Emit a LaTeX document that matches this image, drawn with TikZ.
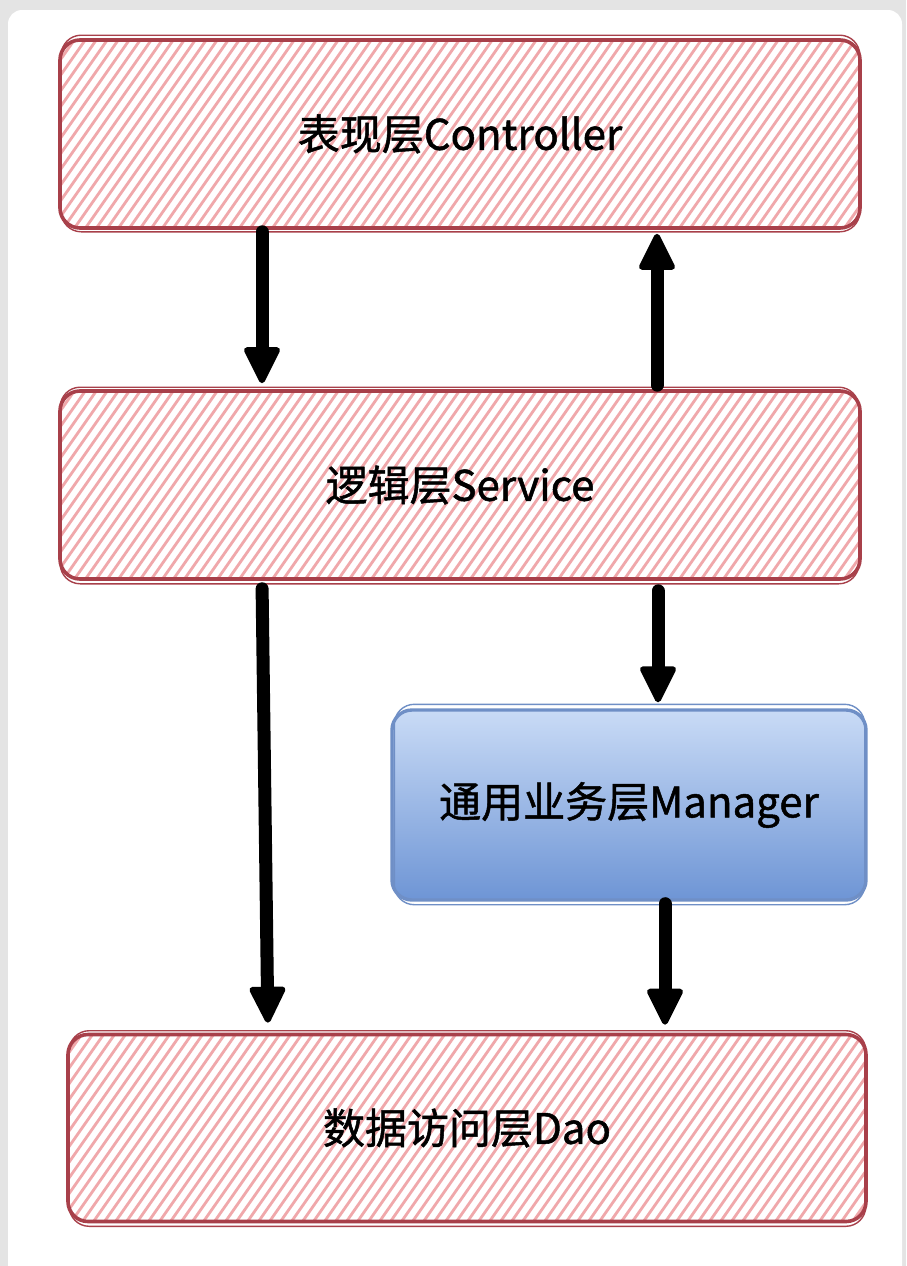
\documentclass[tikz,border=0pt]{standalone}
\usepackage{fontspec}
\setmainfont{Noto Sans CJK SC}[FakeBold=1.2]
\usetikzlibrary{arrows.meta,calc}
\definecolor{bgc}{HTML}{E4E4E4}
\definecolor{redb}{HTML}{A8404A}
\definecolor{hatchc}{HTML}{F0A8AB}
\definecolor{bluetop}{HTML}{C9DBF6}
\definecolor{bluebot}{HTML}{6E95D5}
\definecolor{blueb}{HTML}{6F8FC6}
\tikzset{
  layer/.style={draw=redb, line width=3.6pt, rounded corners=20pt,
    minimum width=800pt, minimum height=188pt, inner sep=0pt,
    font=\fontsize{42}{50}\selectfont,
    path picture={
      \foreach \i in {-16,...,76} {
        \draw[hatchc, line width=2.8pt]
          ($(path picture bounding box.south west)+(\i*11pt,-5pt)$) -- ++(150pt,214pt);
      }
    }},
  mgr/.style={draw=blueb, line width=3.4pt, rounded corners=20pt,
    minimum width=474pt, minimum height=190pt, inner sep=0pt,
    top color=bluetop, bottom color=bluebot,
    font=\fontsize{42}{50}\selectfont},
  sketch/.style={draw=redb, line width=1.4pt, rounded corners=20pt, fill=none},
  arr/.style={line width=13pt, line cap=round,
    -{Triangle[width=38pt,length=40pt,line width=6pt,round]}}
}
\begin{document}
\begin{tikzpicture}[x=1pt,y=-1pt]
\useasboundingbox (0,0) rectangle (906,1266);
\fill[bgc] (0,0) rectangle (906,1266);
\fill[white, rounded corners=14pt] (8,10) rectangle (902,1290);

\node[layer] (ctrl) at (460,134) {表现层Controller};
\node[layer] (svc) at (460,485) {逻辑层Service};
\node[mgr] (mgr) at (629,805) {通用业务层Manager};
\node[layer, minimum width=798pt, minimum height=187pt] (dao) at (467,1128) {数据访问层Dao};

% sketchy second strokes
\draw[sketch] ([shift={(3pt,-2pt)}]ctrl.south west) rectangle ([shift={(-2pt,3pt)}]ctrl.north east);
\draw[sketch] ([shift={(2pt,-3pt)}]svc.south west) rectangle ([shift={(-3pt,2pt)}]svc.north east);
\draw[sketch] ([shift={(3pt,-3pt)}]dao.south west) rectangle ([shift={(-2pt,2pt)}]dao.north east);
\draw[draw=blueb, line width=1.4pt, rounded corners=20pt] ([shift={(4pt,-3pt)}]mgr.south west) rectangle ([shift={(-3pt,4pt)}]mgr.north east);

% arrows
\draw[arr, shorten <=2pt, shorten >=6pt] ([xshift=-198pt]ctrl.south) -- ([xshift=-198pt]svc.north);
\draw[arr, shorten <=4pt, shorten >=4pt] ([xshift=197pt]svc.north) -- ([xshift=197pt]ctrl.south);
\draw[arr, shorten <=8pt, shorten >=10pt] ([xshift=-198pt]svc.south) -- ([xshift=-199pt]dao.north);
\draw[arr, shorten <=10pt, shorten >=6pt] ([xshift=198pt]svc.south) -- ([xshift=29pt]mgr.north);
\draw[arr, shorten <=2pt, shorten >=8pt] ([xshift=36pt]mgr.south) -- ([xshift=198pt]dao.north);
\end{tikzpicture}
\end{document}
